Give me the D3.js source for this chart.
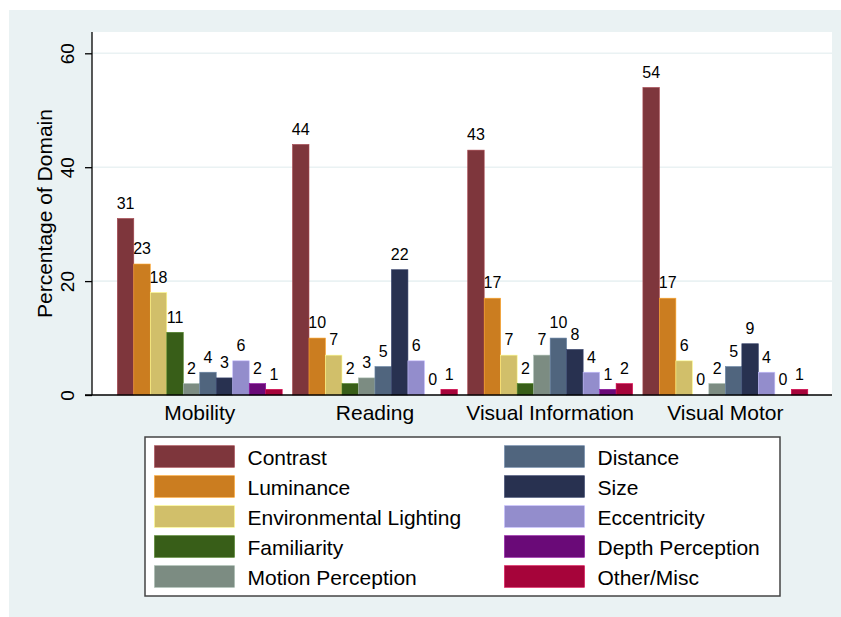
<!DOCTYPE html>
<html>
<head>
<meta charset="utf-8">
<script src="https://cdn.jsdelivr.net/npm/d3@7"></script>
<style>
  html, body { margin: 0; padding: 0; background: #ffffff; }
  svg { display: block; font-family: "Liberation Sans", Arial, Helvetica, sans-serif; }
</style>
</head>
<body>
<svg id="chart" width="841" height="617"></svg>
<script>
// ---- Data ----
const categories = ["Mobility", "Reading", "Visual Information", "Visual Motor"];
const seriesNames = ["Contrast", "Luminance", "Environmental Lighting", "Familiarity",
  "Motion Perception", "Distance", "Size", "Eccentricity", "Depth Perception", "Other/Misc"];
const seriesColors = ["#7e363c", "#cb7d20", "#d1bf6a", "#385e18", "#7c8c82",
  "#50657e", "#283150", "#938dcc", "#6a0a78", "#a6043a"];
const mobility = [31, 23, 18, 11, 2, 4, 3, 6, 2, 1];
const reading = [44, 10, 7, 2, 3, 5, 22, 6, 0, 1];
const visualInformation = [43, 17, 7, 2, 7, 10, 8, 4, 1, 2];
const visualMotor = [54, 17, 6, 0, 2, 5, 9, 4, 0, 1];
const yTicks = [0, 20, 40, 60];
const yTitle = "Percentage of Domain";

const groupValues = [mobility, reading, visualInformation, visualMotor];

// ---- Layout ----
const W = 841, H = 617;
const bgColor = "#eaf2f3";
const plot = { left: 92, right: 832, top: 32, bottom: 395 };

const svg = d3.select("#chart");
svg.append("rect").attr("x", 9).attr("y", 10).attr("width", W - 9).attr("height", H - 10)
  .attr("fill", bgColor);
svg.append("rect").attr("x", plot.left).attr("y", plot.top)
  .attr("width", plot.right - plot.left).attr("height", plot.bottom - plot.top)
  .attr("fill", "#ffffff");

// ---- Scales ----
const y = d3.scaleLinear().domain([0, 60]).range([plot.bottom, 53.3]);
const pInner = 0.0588;
const x0 = d3.scaleBand().domain(categories)
  .range([112.15, 812.95]).paddingInner(pInner).paddingOuter(pInner / 2);
const x1 = d3.scaleBand().domain(seriesNames).range([0, x0.bandwidth()]).padding(0);
const color = d3.scaleOrdinal().domain(seriesNames).range(seriesColors);

// ---- Gridlines ----
svg.append("g").selectAll("line").data(yTicks.filter(t => t > 0)).join("line")
  .attr("x1", plot.left).attr("x2", plot.right)
  .attr("y1", d => y(d)).attr("y2", d => y(d))
  .attr("stroke", bgColor).attr("stroke-width", 1.6);

// ---- Bars ----
const groups = svg.append("g").selectAll("g").data(categories).join("g")
  .attr("transform", d => `translate(${x0(d)},0)`);

groups.each(function(cat, gi) {
  const vals = groupValues[gi].map((v, si) => ({ name: seriesNames[si], value: v }));
  const g = d3.select(this);
  g.selectAll("rect").data(vals).join("rect")
    .attr("x", d => x1(d.name))
    .attr("width", x1.bandwidth())
    .attr("y", d => y(d.value))
    .attr("height", d => y(0) - y(d.value))
    .attr("fill", d => color(d.name))
    .attr("stroke", d => d.value > 0 ? d3.color(color(d.name)).brighter(0.8) : "none")
    .attr("stroke-width", 0.6);
  g.selectAll("text").data(vals).join("text")
    .attr("x", d => x1(d.name) + x1.bandwidth() / 2)
    .attr("y", d => y(d.value) - 9.7)
    .attr("text-anchor", "middle")
    .attr("font-size", 16)
    .attr("fill", "#000")
    .text(d => d.value);
});

// ---- Axes ----
const yAxis = d3.axisLeft(y).tickValues(yTicks).tickSize(7).tickPadding(0).tickFormat(d3.format("d"));
const yg = svg.append("g").attr("transform", `translate(${plot.left},0)`).call(yAxis);
yg.select(".domain").remove();
yg.selectAll(".tick line").attr("stroke", "#000").attr("stroke-width", 1.3);
yg.selectAll(".tick text")
  .attr("font-size", 19)
  .attr("fill", "#000")
  .attr("text-anchor", "middle")
  .attr("transform", null)
  .attr("x", 0).attr("dy", null)
  .attr("transform", function(d) { return `translate(-18,${0}) rotate(-90)`; })
  .attr("y", 0)
  .attr("dominant-baseline", "auto");
// position rotated tick labels: baseline right side toward axis
yg.selectAll(".tick text").each(function() {
  d3.select(this).attr("x", 0).attr("y", 0);
});
svg.append("line").attr("x1", plot.left).attr("x2", plot.left)
  .attr("y1", plot.top).attr("y2", plot.bottom)
  .attr("stroke", "#000").attr("stroke-width", 1.3);

const xAxis = d3.axisBottom(x0).tickSize(0).tickPadding(0);
const xg = svg.append("g").attr("transform", `translate(0,${plot.bottom})`).call(xAxis);
xg.select(".domain").remove();
xg.selectAll(".tick text").attr("font-size", 21).attr("fill", "#000").attr("dy", null).attr("y", 25);
svg.append("line").attr("x1", plot.left - 7).attr("x2", plot.right)
  .attr("y1", plot.bottom).attr("y2", plot.bottom)
  .attr("stroke", "#000").attr("stroke-width", 1.3);

// Y title
svg.append("text")
  .attr("transform", `translate(52,${(plot.top + plot.bottom) / 2}) rotate(-90)`)
  .attr("text-anchor", "middle")
  .attr("font-size", 21)
  .attr("fill", "#000")
  .text(yTitle);

// ---- Legend ----
const legend = { x: 145, y: 437, w: 635, h: 159 };
svg.append("rect").attr("x", legend.x).attr("y", legend.y)
  .attr("width", legend.w).attr("height", legend.h)
  .attr("fill", "#fff").attr("stroke", "#444").attr("stroke-width", 1.5);
const colX = [154.5, 504.5];
const rowY = d3.scaleBand().domain(d3.range(5)).range([445.7, 445.7 + 30 * 5]);
const li = svg.append("g").selectAll("g").data(seriesNames).join("g")
  .attr("transform", (d, i) => `translate(${colX[Math.floor(i / 5)]},${rowY(i % 5)})`);
li.append("rect").attr("width", 80).attr("height", 21.6)
  .attr("fill", d => color(d))
  .attr("stroke", d => d3.color(color(d)).brighter(0.8)).attr("stroke-width", 0.6);
li.append("text").attr("x", 93).attr("y", 19).attr("font-size", 21).attr("fill", "#000").text(d => d);
</script>
</body>
</html>
